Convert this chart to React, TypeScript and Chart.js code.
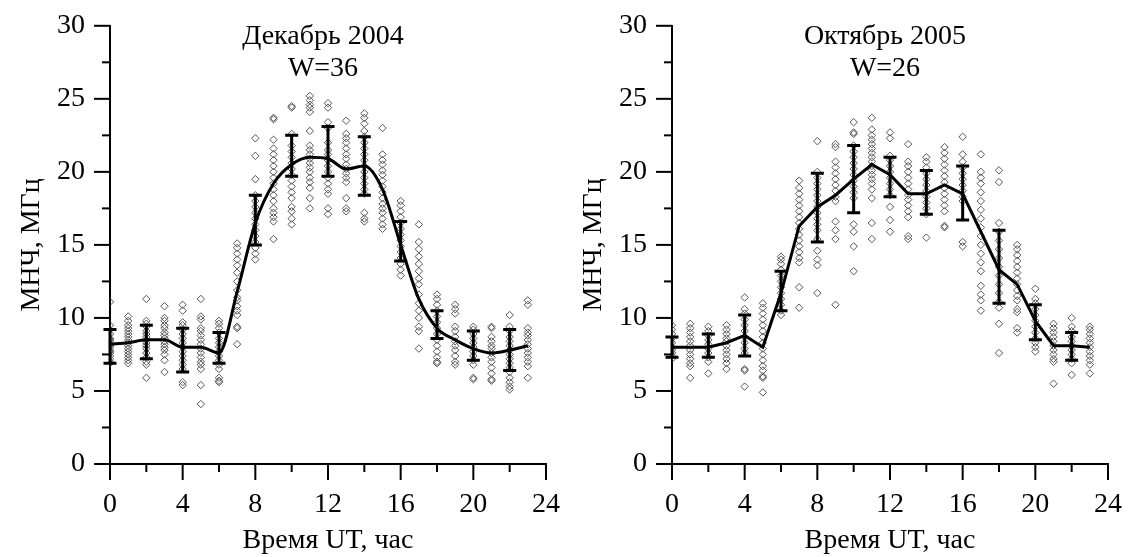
import React, { useEffect, useRef } from 'react';
import { Chart, registerables } from 'chart.js';

Chart.register(...registerables);

const FONT = '"Liberation Serif", "DejaVu Serif", serif';

const hours = [0, 1, 2, 3, 4, 5, 6, 7, 8, 9, 10, 11, 12, 13, 14, 15, 16, 17, 18, 19, 20, 21, 22, 23];
const errHours = [0, 2, 4, 6, 8, 10, 12, 14, 16, 18, 20, 22];

// ---- Декабрь 2004 ----
const decMean = [8.2, 8.3, 8.5, 8.5, 8.0, 8.0, 7.6, 11.8, 16.5, 19.2, 20.5, 21.0, 20.9, 20.2, 20.4, 18.8, 15.0, 11.3, 9.3, 8.5, 7.9, 7.6, 7.8, 8.1];
const decErrHigh = [9.2, 9.5, 9.3, 9.0, 18.4, 22.5, 23.1, 22.4, 16.6, 10.5, 9.1, 9.2];
const decErrLow = [6.9, 7.2, 6.3, 6.9, 15.0, 19.7, 19.7, 18.4, 13.9, 8.6, 7.1, 6.4];
const decObs: number[][] = [
  [11.1, 9.5, 9.2, 8.9, 8.6, 8.4, 8.2, 8.0, 7.8, 7.6, 7.4, 7.2, 7.0, 6.9, 8.5, 8.1, 7.7],
  [10.1, 9.8, 9.5, 9.3, 9.1, 8.9, 8.7, 8.5, 8.3, 8.1, 7.9, 7.7, 7.5, 7.3, 7.1, 6.9],
  [11.3, 9.8, 9.6, 9.4, 9.1, 8.9, 8.7, 8.5, 8.3, 8.1, 7.9, 7.6, 7.3, 7.0, 6.8, 5.9],
  [10.8, 10.0, 9.8, 9.5, 9.3, 9.0, 8.8, 8.6, 8.4, 8.2, 8.0, 7.8, 7.5, 7.1, 6.3],
  [10.9, 10.5, 9.7, 9.5, 9.2, 8.9, 8.6, 8.3, 8.0, 7.7, 7.4, 7.1, 6.8, 6.5, 5.6, 5.4],
  [11.3, 10.1, 9.9, 9.3, 9.1, 8.8, 8.5, 8.2, 7.9, 7.6, 7.3, 7.0, 6.8, 6.5, 5.4, 4.1],
  [9.8, 9.6, 9.3, 9.0, 8.6, 8.3, 8.0, 7.7, 7.4, 7.1, 6.8, 6.5, 5.9, 5.7, 5.6],
  [15.1, 14.8, 14.4, 14.0, 13.6, 13.1, 12.5, 11.9, 11.4, 11.2, 10.8, 10.5, 10.2, 9.4, 9.3, 8.2],
  [22.3, 21.1, 19.5, 18.4, 18.0, 17.6, 17.2, 16.8, 16.4, 16.0, 15.6, 15.2, 14.8, 14.4, 14.0],
  [23.7, 23.6, 22.2, 21.6, 21.2, 20.8, 20.4, 20.0, 19.6, 19.2, 18.8, 18.4, 18.0, 17.5, 17.2, 16.9, 16.6, 15.4],
  [24.5, 24.4, 22.6, 21.8, 21.4, 21.0, 20.6, 20.2, 19.8, 19.4, 19.0, 18.6, 18.2, 17.6, 17.3, 16.8, 16.4],
  [25.2, 24.9, 24.6, 24.4, 24.1, 22.8, 21.8, 21.5, 21.2, 20.9, 20.6, 20.3, 20.0, 19.6, 19.3, 18.9, 18.2, 17.5],
  [24.7, 24.4, 23.4, 23.0, 22.0, 21.5, 21.2, 20.8, 20.4, 20.0, 19.6, 19.2, 18.8, 18.5, 17.5, 17.1],
  [23.5, 22.6, 22.3, 22.0, 21.6, 21.2, 20.9, 20.5, 20.2, 19.9, 19.6, 19.3, 18.2, 17.5, 17.3],
  [24.0, 23.7, 23.3, 22.8, 22.4, 22.0, 21.6, 21.2, 20.8, 20.4, 20.0, 19.6, 19.2, 18.8, 18.5, 17.2, 16.8, 16.6],
  [23.0, 21.2, 20.8, 20.5, 20.1, 19.8, 19.4, 19.0, 18.6, 18.2, 17.8, 17.5, 17.2, 16.8, 16.4, 16.1],
  [18.0, 17.7, 17.3, 16.9, 16.5, 16.1, 15.7, 15.3, 14.9, 14.5, 14.1, 13.7, 13.3, 12.9],
  [16.4, 15.2, 14.7, 14.2, 13.7, 13.2, 12.7, 12.3, 11.6, 11.0, 10.5, 10.0, 9.4, 9.1, 7.9],
  [11.6, 11.3, 10.9, 10.5, 10.1, 9.7, 9.3, 8.9, 8.5, 8.1, 7.7, 7.3, 7.0, 6.9],
  [10.9, 10.6, 10.3, 9.4, 9.1, 8.7, 8.4, 8.1, 7.8, 7.4, 7.0, 6.8],
  [9.4, 9.2, 8.9, 8.6, 8.3, 8.0, 7.7, 7.4, 7.1, 6.8, 5.9, 5.8],
  [9.4, 9.3, 8.7, 8.4, 8.1, 7.9, 7.6, 7.3, 7.0, 6.6, 6.2, 5.8, 5.7],
  [10.2, 9.4, 9.1, 8.7, 8.4, 8.1, 7.8, 7.5, 7.2, 6.9, 6.6, 6.3, 5.9, 5.6, 5.3, 5.1],
  [11.2, 10.9, 9.3, 9.0, 8.8, 8.5, 8.2, 7.9, 7.6, 7.3, 7.0, 6.7, 5.9],
];

// ---- Октябрь 2005 ----
const octMean = [8.0, 8.0, 8.0, 8.3, 8.8, 8.0, 11.7, 16.3, 17.6, 18.4, 19.5, 20.5, 19.8, 18.5, 18.5, 19.1, 18.5, 15.9, 13.3, 12.3, 9.8, 8.1, 8.1, 8.0];
const octErrHigh = [8.7, 8.9, 10.2, 13.2, 19.9, 21.8, 21.0, 20.1, 20.4, 16.0, 10.9, 9.0];
const octErrLow = [7.3, 7.3, 7.4, 10.5, 15.2, 17.2, 18.3, 17.1, 16.7, 11.0, 8.5, 7.1];
const octObs: number[][] = [
  [9.5, 9.2, 8.9, 8.6, 8.3, 8.0, 7.8, 7.6, 7.4, 7.2],
  [9.6, 9.3, 9.0, 8.7, 8.4, 8.1, 7.8, 7.5, 7.2, 6.9, 6.7, 5.9],
  [9.4, 9.1, 8.8, 8.5, 8.2, 7.9, 7.6, 7.3, 7.0, 6.2],
  [9.5, 9.2, 8.9, 8.6, 8.4, 8.1, 7.8, 7.5, 7.2, 6.9, 6.5],
  [11.4, 10.6, 10.3, 9.9, 9.5, 9.1, 8.7, 8.3, 7.9, 7.6, 6.5, 6.4, 5.3],
  [11.0, 10.7, 10.3, 9.9, 9.5, 9.1, 8.7, 8.3, 7.9, 7.5, 7.1, 6.7, 6.4, 6.0, 5.9, 4.9],
  [14.2, 14.0, 13.7, 13.3, 12.9, 12.5, 12.1, 11.7, 11.3, 10.9, 10.5, 10.2],
  [19.4, 18.9, 18.5, 18.1, 17.7, 17.3, 16.9, 16.5, 16.1, 15.7, 15.3, 14.9, 14.5, 14.1, 13.8, 12.1, 10.7],
  [22.1, 20.0, 19.6, 19.2, 18.8, 18.4, 18.0, 17.6, 17.2, 16.8, 16.4, 16.0, 15.4, 14.6, 14.0, 13.6, 11.7],
  [21.9, 21.7, 20.7, 20.3, 19.9, 19.5, 19.1, 18.7, 18.3, 18.0, 16.6, 16.0, 15.4, 10.9],
  [23.4, 22.7, 22.6, 21.8, 21.4, 21.0, 20.6, 20.2, 19.8, 19.4, 19.0, 18.6, 18.2, 16.4, 15.9, 14.9, 13.2],
  [23.7, 22.9, 22.5, 22.2, 21.9, 21.6, 21.3, 21.0, 20.7, 20.4, 20.1, 19.8, 19.5, 19.2, 18.8, 18.2, 16.5, 15.4],
  [22.7, 22.3, 21.1, 20.8, 20.4, 20.0, 19.6, 19.2, 18.8, 18.4, 17.6, 16.7, 15.9],
  [21.9, 20.7, 20.4, 20.0, 19.6, 19.2, 18.8, 18.4, 18.1, 17.7, 17.3, 16.9, 15.6, 15.4],
  [21.0, 20.7, 20.3, 19.9, 19.5, 19.1, 18.7, 18.3, 17.9, 17.5, 17.1, 15.5],
  [21.7, 21.3, 20.9, 20.5, 20.1, 19.7, 19.3, 18.9, 18.5, 18.1, 17.7, 17.3, 16.3, 16.2],
  [22.4, 21.2, 20.7, 20.3, 19.9, 19.5, 19.1, 18.7, 18.3, 18.0, 15.2, 14.9],
  [21.2, 20.0, 19.6, 19.2, 18.6, 18.0, 17.4, 16.8, 16.2, 15.6, 15.0, 14.4, 13.8, 13.2, 12.2, 11.6, 11.2, 10.5],
  [20.1, 19.3, 16.5, 15.9, 15.3, 14.7, 14.1, 13.5, 12.9, 12.3, 11.7, 11.1, 10.7, 9.6, 7.6],
  [15.0, 14.7, 14.3, 13.9, 13.5, 13.1, 12.7, 12.3, 11.9, 11.5, 11.2, 10.6, 10.4, 9.3, 9.0],
  [12.0, 11.3, 11.0, 10.6, 10.2, 9.8, 9.4, 9.0, 8.6, 8.3, 8.0, 7.7],
  [9.6, 9.3, 9.0, 8.7, 8.4, 8.1, 7.8, 7.5, 7.2, 7.0, 5.5],
  [10.0, 9.4, 9.1, 8.7, 8.4, 8.1, 7.8, 7.5, 7.2, 6.9, 6.1],
  [9.4, 9.2, 8.9, 8.6, 8.3, 8.0, 7.7, 7.4, 7.1, 6.8, 6.2],
];

const xTickLabels = ['0', '4', '8', '12', '16', '20', '24'];
const yTickLabels = ['0', '5', '10', '15', '20', '25', '30'];

const CANVAS_W = 568;
const CANVAS_H = 557;
const FS = 28;

type PanelProps = {
  title: string[];
  mean: number[];
  errHigh: number[];
  errLow: number[];
  obs: number[][];
  smooth: boolean;
};

const axisTicksPlugin = {
  id: 'axisTicks',
  afterDraw(chart: any) {
    const { ctx, chartArea, scales } = chart;
    ctx.save();
    ctx.strokeStyle = '#000';
    ctx.lineWidth = 2;
    ctx.lineCap = 'butt';
    const xs = scales.x;
    xs.ticks.forEach((t: any) => {
      const px = xs.getPixelForValue(t.value);
      const major = xTickLabels.includes(String(t.value));
      ctx.beginPath();
      ctx.moveTo(px, chartArea.bottom);
      ctx.lineTo(px, chartArea.bottom + (major ? 16 : 8));
      ctx.stroke();
    });
    const ys = scales.y;
    ys.ticks.forEach((t: any) => {
      const py = ys.getPixelForValue(t.value);
      const major = yTickLabels.includes(String(t.value));
      ctx.beginPath();
      ctx.moveTo(chartArea.left, py);
      ctx.lineTo(chartArea.left - (major ? 16 : 8), py);
      ctx.stroke();
    });
    ctx.restore();
  },
};

function Panel({ title, mean, errHigh, errLow, obs, smooth }: PanelProps) {
  const ref = useRef<HTMLCanvasElement | null>(null);

  useEffect(() => {
    if (!ref.current) return;
    const scatterPts = obs.flatMap((vals, h) => vals.map((v) => ({ x: hours[h], y: v })));
    const meanPts = mean.map((v, i) => ({ x: hours[i], y: v }));

    const errorBarPlugin = {
      id: 'errorBars',
      afterDatasetsDraw(chart: any) {
        const { ctx, scales } = chart;
        ctx.save();
        ctx.strokeStyle = '#000';
        ctx.lineWidth = 3;
        errHours.forEach((h, i) => {
          const px = scales.x.getPixelForValue(h);
          const pt = scales.y.getPixelForValue(errHigh[i]);
          const pb = scales.y.getPixelForValue(errLow[i]);
          ctx.beginPath();
          ctx.moveTo(px, pt);
          ctx.lineTo(px, pb);
          ctx.moveTo(px - 6.5, pt);
          ctx.lineTo(px + 6.5, pt);
          ctx.moveTo(px - 6.5, pb);
          ctx.lineTo(px + 6.5, pb);
          ctx.stroke();
        });
        ctx.restore();
      },
    };

    const titlePlugin = {
      id: 'innerTitle',
      afterDraw(chart: any) {
        const { ctx, chartArea } = chart;
        const cx = (chartArea.left + chartArea.right) / 2 - 5;
        ctx.save();
        ctx.fillStyle = '#000';
        ctx.font = `${FS}px ${FONT}`;
        ctx.textAlign = 'center';
        ctx.textBaseline = 'middle';
        ctx.fillText(title[0], cx, 37);
        ctx.fillText(title[1], cx, 69);
        ctx.restore();
      },
    };

    const chart = new Chart(ref.current, {
      type: 'scatter',
      data: {
        datasets: [
          {
            type: 'scatter',
            data: scatterPts,
            pointStyle: 'rectRot',
            pointRadius: 3.7,
            borderWidth: 1,
            borderColor: '#555',
            backgroundColor: 'rgba(0,0,0,0)',
            order: 2,
          },
          {
            type: 'line',
            data: meanPts,
            borderColor: '#000',
            borderWidth: 3,
            pointRadius: 0,
            tension: smooth ? 0.4 : 0,
            cubicInterpolationMode: smooth ? 'monotone' : 'default',
            fill: false,
            order: 1,
          },
        ],
      } as any,
      options: {
        animation: false,
        responsive: false,
        maintainAspectRatio: false,
        devicePixelRatio: 1,
        events: [],
        layout: { padding: { left: 0, right: 14, top: 23, bottom: 0 } },
        plugins: {
          legend: { display: false },
          tooltip: { enabled: false },
          title: { display: false },
        },
        scales: {
          x: {
            type: 'linear',
            min: 0,
            max: 24,
            afterFit: (s: any) => {
              s.height = 93;
            },
            ticks: {
              stepSize: 2,
              autoSkip: false,
              maxRotation: 0,
              minRotation: 0,
              padding: 8,
              color: '#000',
              font: { family: FONT, size: FS },
              callback: (v: any) => (xTickLabels.includes(String(v)) ? String(v) : ''),
            },
            grid: {
              display: true,
              drawOnChartArea: false,
              drawTicks: true,
              tickLength: 16,
              color: 'rgba(0,0,0,0)',
            },
            border: { display: true, color: '#000', width: 2 },
            title: {
              display: true,
              text: 'Время UT, час',
              color: '#000',
              font: { family: FONT, size: FS },
              padding: { top: 0, bottom: 0 },
            },
          },
          y: {
            type: 'linear',
            min: 0,
            max: 30,
            afterFit: (s: any) => {
              s.width = 110;
            },
            ticks: {
              stepSize: 2.5,
              autoSkip: false,
              padding: 9,
              color: '#000',
              font: { family: FONT, size: FS },
              callback: (v: any) => (yTickLabels.includes(String(v)) ? String(v) : ''),
            },
            grid: {
              display: true,
              drawOnChartArea: false,
              drawTicks: true,
              tickLength: 16,
              color: 'rgba(0,0,0,0)',
            },
            border: { display: true, color: '#000', width: 2 },
            title: {
              display: true,
              text: 'МНЧ, МГц',
              color: '#000',
              font: { family: FONT, size: FS },
              padding: { top: 15, bottom: 0 },
            },
          },
        },
      } as any,
      plugins: [axisTicksPlugin, errorBarPlugin, titlePlugin],
    });
    return () => chart.destroy();
  }, [title, mean, errHigh, errLow, obs, smooth]);

  return <canvas ref={ref} width={CANVAS_W} height={CANVAS_H} style={{ width: CANVAS_W, height: CANVAS_H, display: 'block' }} />;
}

const decTitle = ['Декабрь 2004', 'W=36'];
const octTitle = ['Октябрь 2005', 'W=26'];

export default function App() {
  return (
    <div style={{ position: 'absolute', left: 0, top: 0, width: 1131, height: 557, background: '#fff', overflow: 'hidden' }}>
      <div style={{ position: 'absolute', left: 0, top: 0 }}>
        <Panel title={decTitle} mean={decMean} errHigh={decErrHigh} errLow={decErrLow} obs={decObs} smooth={true} />
      </div>
      <div style={{ position: 'absolute', left: 562, top: 0 }}>
        <Panel title={octTitle} mean={octMean} errHigh={octErrHigh} errLow={octErrLow} obs={octObs} smooth={false} />
      </div>
    </div>
  );
}
